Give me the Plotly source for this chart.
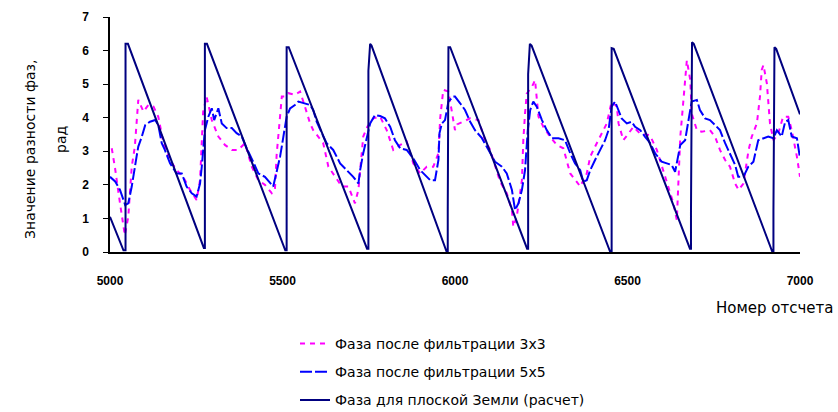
import plotly.graph_objects as go

# Flat-Earth (calculated) phase - sawtooth vertices
saw_x = [5000, 5039, 5045, 5045, 5052, 5272, 5275, 5275, 5281, 5508, 5512, 5512, 5518,
         5745, 5749, 5749, 5754, 5758, 5976, 5979, 5979, 5981, 5986, 6209, 6212, 6212,
         6217, 6222, 6450, 6454, 6454, 6460, 6681, 6684, 6684, 6687, 6692, 6920, 6923,
         6923, 6926, 6931, 7000]
saw_y = [1.05, 0.05, 0.05, 6.2, 6.2, 0.12, 0.12, 6.2, 6.2, 0.05, 0.05, 6.1, 6.1,
         0.1, 0.1, 5.4, 6.2, 6.15, 0.0, 0.0, 1.2, 6.1, 6.1, 0.1, 0.1, 5.3,
         6.2, 6.15, 0.0, 0.0, 6.07, 6.05, 0.1, 0.1, 1.2, 6.25, 6.2, 0.0, 0.0,
         1.25, 6.1, 6.05, 4.1]

# Phase after 5x5 filtering
f5_x = [5000, 5015, 5029, 5039, 5044, 5053, 5063, 5077, 5082, 5092, 5102, 5116, 5131, 5140,
        5150, 5159, 5174, 5193, 5208, 5222, 5237, 5251, 5261, 5266, 5271, 5275, 5285, 5295,
        5302, 5314, 5324, 5338, 5353, 5367, 5382, 5396, 5415, 5430, 5449, 5464, 5473, 5483,
        5493, 5502, 5512, 5522, 5536, 5546, 5560, 5580, 5589, 5599, 5614, 5628, 5647, 5667,
        5686, 5705, 5720, 5725, 5734, 5746, 5754, 5768, 5783, 5797, 5812, 5826, 5841, 5860,
        5879, 5899, 5913, 5928, 5942, 5952, 5955, 5962, 5971, 5981, 5995, 6000, 6015, 6029,
        6044, 6058, 6078, 6097, 6116, 6136, 6150, 6165, 6174, 6184, 6194, 6203, 6211, 6218,
        6227, 6237, 6252, 6266, 6281, 6300, 6319, 6334, 6348, 6363, 6372, 6382, 6392, 6406,
        6421, 6435, 6445, 6454, 6464, 6474, 6483, 6498, 6512, 6522, 6537, 6551, 6566, 6580,
        6599, 6614, 6628, 6638, 6643, 6653, 6667, 6677, 6686, 6701, 6710, 6725, 6739, 6754,
        6768, 6783, 6797, 6812, 6821, 6836, 6850, 6865, 6879, 6894, 6908, 6923, 6933, 6947,
        6957, 6966, 6976, 6991, 7000]
f5_y = [2.24, 2.10, 1.85, 1.55, 1.40, 1.45, 1.95, 2.84, 3.14, 3.43, 3.78, 3.88, 3.93, 3.78,
        3.24, 3.04, 2.64, 2.34, 2.34, 1.95, 1.75, 1.65, 2.04, 2.54, 3.33, 3.63, 4.03, 4.28,
        3.93, 4.28, 3.83, 3.69, 3.69, 3.54, 3.44, 3.09, 2.69, 2.34, 2.24, 2.04, 1.95, 2.39,
        2.84, 3.40, 4.03, 4.28, 4.38, 4.48, 4.43, 4.38, 4.23, 3.88, 3.54, 3.24, 3.04, 2.64,
        2.44, 2.24, 2.04, 2.44, 2.94, 3.54, 3.83, 4.08, 4.05, 3.98, 3.73, 3.33, 3.09, 3.04,
        2.79, 2.44, 2.29, 2.14, 2.14, 2.74, 3.54, 3.83, 3.93, 4.48, 4.63, 4.63, 4.43, 4.23,
        3.88, 3.63, 3.39, 3.04, 2.69, 2.54, 2.34, 1.85, 1.25, 1.45, 1.85, 2.44, 3.63, 4.23,
        4.48, 4.33, 3.93, 3.63, 3.39, 3.39, 3.33, 2.94, 2.64, 2.44, 2.09, 2.14, 2.44, 2.74,
        3.04, 3.33, 3.63, 4.33, 4.48, 4.23, 3.98, 3.83, 3.88, 3.73, 3.63, 3.43, 3.24, 2.94,
        2.69, 2.64, 2.59, 2.39, 2.64, 3.19, 3.33, 3.93, 4.48, 4.53, 4.23, 3.98, 3.93, 3.78,
        3.63, 3.24, 2.94, 2.59, 2.24, 2.24, 2.54, 2.69, 3.33, 3.39, 3.44, 3.39, 3.63, 3.44,
        3.88, 3.93, 3.44, 3.39, 2.80]

# Phase after 3x3 filtering
f3_x = [5005, 5014, 5029, 5043, 5053, 5063, 5072, 5077, 5082, 5097, 5111, 5126, 5140, 5155,
        5174, 5193, 5212, 5232, 5251, 5261, 5270, 5280, 5295, 5314, 5333, 5353, 5372, 5391,
        5411, 5430, 5449, 5469, 5478, 5483, 5488, 5493, 5498, 5507, 5517, 5536, 5551, 5565,
        5580, 5589, 5604, 5618, 5633, 5652, 5672, 5691, 5710, 5720, 5734, 5746, 5763, 5783,
        5802, 5821, 5841, 5860, 5879, 5899, 5918, 5937, 5952, 5957, 5966, 5981, 6000, 6006,
        6044, 6068, 6087, 6102, 6121, 6131, 6150, 6165, 6169, 6179, 6194, 6198, 6203, 6208,
        6223, 6232, 6242, 6256, 6276, 6295, 6314, 6334, 6353, 6363, 6382, 6392, 6406, 6425,
        6440, 6454, 6469, 6474, 6488, 6503, 6517, 6536, 6565, 6585, 6604, 6618, 6633, 6643,
        6653, 6667, 6672, 6682, 6686, 6701, 6715, 6739, 6754, 6768, 6783, 6797, 6812, 6822,
        6836, 6851, 6860, 6875, 6884, 6889, 6894, 6904, 6913, 6923, 6937, 6951, 6966, 6976,
        6991, 7000]
f3_y = [3.09, 2.54, 1.45, 0.50, 1.05, 2.54, 3.14, 3.73, 4.53, 4.18, 4.38, 4.33, 4.03, 3.24,
        2.74, 2.44, 2.24, 1.85, 1.55, 2.14, 4.18, 4.63, 3.93, 3.44, 3.19, 3.04, 3.04, 3.24,
        2.54, 2.14, 2.00, 1.75, 1.85, 2.89, 3.44, 4.08, 4.63, 4.63, 4.73, 4.68, 4.78, 4.33,
        3.83, 3.63, 3.43, 3.24, 2.54, 2.24, 1.95, 1.95, 1.45, 1.85, 3.44, 3.73, 3.98, 4.03,
        3.63, 3.04, 3.19, 3.29, 2.64, 2.34, 2.54, 2.54, 2.94, 3.98, 4.83, 4.78, 3.63, 3.80,
        3.98, 3.93, 3.33, 3.04, 2.44, 2.09, 1.75, 1.25, 0.75, 1.05, 2.14, 3.33, 4.13, 4.72,
        4.92, 5.12, 4.03, 3.73, 3.43, 3.19, 3.09, 2.34, 2.09, 1.95, 2.34, 2.84, 3.14, 3.53,
        3.83, 4.48, 4.33, 3.83, 3.33, 3.53, 3.73, 3.53, 3.48, 3.04, 2.44, 1.95, 1.45, 0.95,
        3.43, 5.32, 5.71, 5.12, 4.13, 3.63, 3.58, 3.63, 3.43, 3.04, 2.74, 2.54, 2.04, 1.85,
        2.04, 3.04, 3.43, 3.83, 4.63, 5.42, 5.57, 5.02, 3.83, 3.33, 3.53, 4.03, 4.03, 3.63,
        2.84, 2.24]

x_ticks = [5000, 5500, 6000, 6500, 7000]
y_ticks = [0, 1, 2, 3, 4, 5, 6, 7]

names = ["Фаза после фильтрации 3х3",
         "Фаза после фильтрации 5х5",
         "Фаза для плоской Земли (расчет)"]

fig = go.Figure()
fig.add_trace(go.Scatter(x=f3_x, y=f3_y, mode="lines", name=names[0], legendgroup="a",
                         line=dict(color="#FF00FF", width=2, dash="5px,5px")))
fig.add_trace(go.Scatter(x=f5_x, y=f5_y, mode="lines", name=names[1], legendgroup="b",
                         line=dict(color="#0000FF", width=2, dash="12px,3px")))
fig.add_trace(go.Scatter(x=saw_x, y=saw_y, mode="lines", name=names[2], legendgroup="c",
                         line=dict(color="#000080", width=2)))

fig.update_layout(
    width=838, height=412,
    margin=dict(l=110, r=38, t=17, b=160, autoexpand=False),
    paper_bgcolor="white", plot_bgcolor="white",
    font=dict(family="DejaVu Sans", size=14, color="black"),
    showlegend=True,
    legend=dict(x=(295 - 110) / 690, y=(252 - 328) / 235, xanchor="left", yanchor="top",
                font=dict(family="DejaVu Sans", size=14, color="black"),
                tracegroupgap=7, bgcolor="rgba(0,0,0,0)"),
    xaxis=dict(range=[5000, 7000], tickvals=x_ticks, showgrid=False, zeroline=False,
               showline=True, linecolor="black", linewidth=1.5, ticks="",
               ticklabelstandoff=17,
               tickfont=dict(family="Liberation Sans", size=12, weight="bold")),
    yaxis=dict(range=[0, 7], tickvals=y_ticks, showgrid=False, zeroline=False,
               showline=True, linecolor="black", linewidth=1.5, ticks="outside",
               ticklen=5, tickcolor="black", ticklabelstandoff=12,
               tickfont=dict(family="Liberation Sans", size=12, weight="bold")),
    annotations=[
        dict(text="Значение разности фаз,", textangle=-90, xref="paper", yref="paper",
             x=(30 - 110) / 690, y=(252 - 150) / 235, xanchor="center", yanchor="middle",
             showarrow=False, font=dict(family="DejaVu Sans", size=14)),
        dict(text="рад", textangle=-90, xref="paper", yref="paper",
             x=(61 - 110) / 690, y=(252 - 140) / 235, xanchor="center", yanchor="middle",
             showarrow=False, font=dict(family="DejaVu Sans", size=14)),
        dict(text="Номер отсчета", xref="paper", yref="paper",
             x=(835 - 110) / 690, y=(252 - 308) / 235, xanchor="right", yanchor="middle",
             showarrow=False, font=dict(family="DejaVu Sans", size=15)),
    ],
)

fig.write_html("out.html")
